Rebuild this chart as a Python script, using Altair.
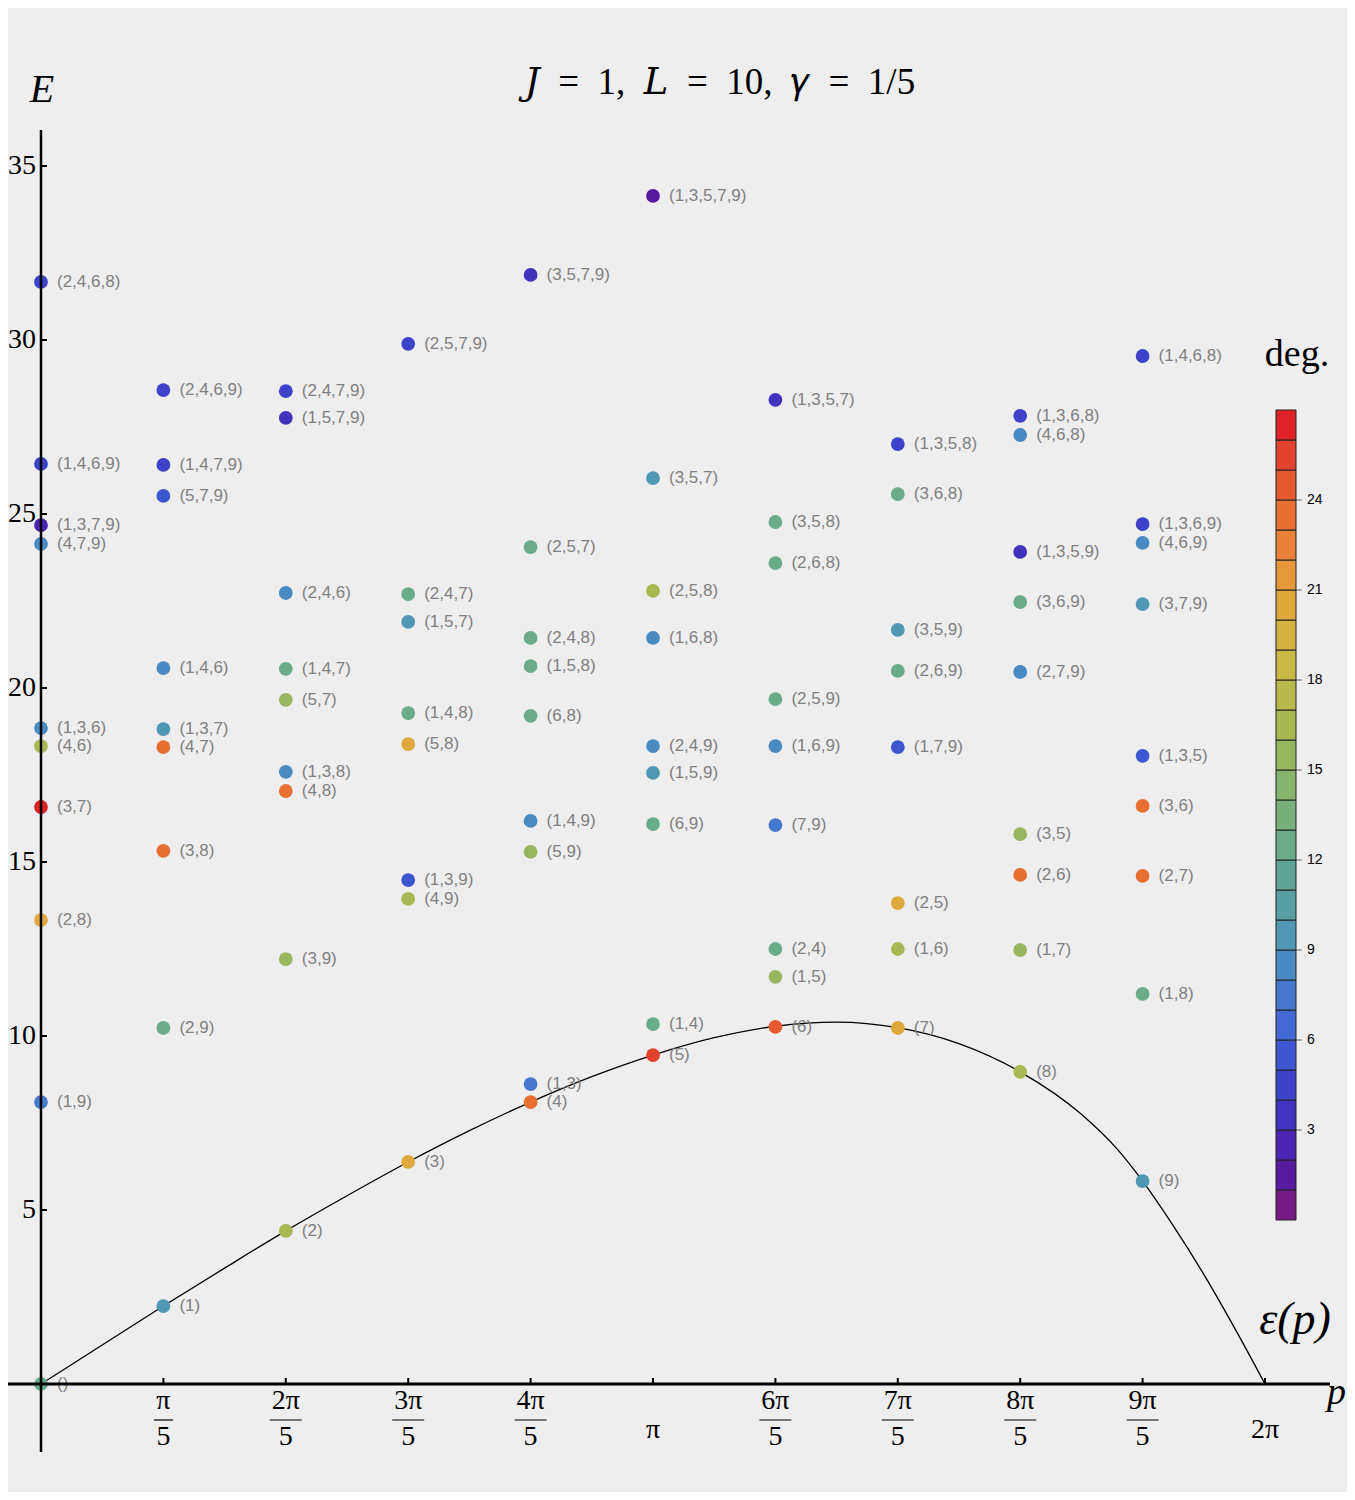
import altair as alt
import pandas as pd

# ---------------- data ----------------
# momentum index k  (p = k*pi/5), one list per momentum column
STATES = [
    ["()", "(1,9)", "(2,8)", "(3,7)", "(4,6)", "(1,3,6)", "(4,7,9)", "(1,3,7,9)", "(1,4,6,9)", "(2,4,6,8)"],
    ["(1)", "(2,9)", "(3,8)", "(4,7)", "(1,3,7)", "(1,4,6)", "(5,7,9)", "(1,4,7,9)", "(2,4,6,9)"],
    ["(2)", "(3,9)", "(4,8)", "(1,3,8)", "(5,7)", "(1,4,7)", "(2,4,6)", "(1,5,7,9)", "(2,4,7,9)"],
    ["(3)", "(4,9)", "(1,3,9)", "(5,8)", "(1,4,8)", "(1,5,7)", "(2,4,7)", "(2,5,7,9)"],
    ["(4)", "(1,3)", "(5,9)", "(1,4,9)", "(6,8)", "(1,5,8)", "(2,4,8)", "(2,5,7)", "(3,5,7,9)"],
    ["(5)", "(1,4)", "(6,9)", "(1,5,9)", "(2,4,9)", "(1,6,8)", "(2,5,8)", "(3,5,7)", "(1,3,5,7,9)"],
    ["(6)", "(1,5)", "(2,4)", "(7,9)", "(1,6,9)", "(2,5,9)", "(2,6,8)", "(3,5,8)", "(1,3,5,7)"],
    ["(7)", "(1,6)", "(2,5)", "(1,7,9)", "(2,6,9)", "(3,5,9)", "(3,6,8)", "(1,3,5,8)"],
    ["(8)", "(1,7)", "(2,6)", "(3,5)", "(2,7,9)", "(3,6,9)", "(1,3,5,9)", "(4,6,8)", "(1,3,6,8)"],
    ["(9)", "(1,8)", "(2,7)", "(3,6)", "(1,3,5)", "(3,7,9)", "(4,6,9)", "(1,3,6,9)", "(1,4,6,8)"],
]
ENERGIES = [
    [0.0, 8.10, 13.33, 16.58, 18.33, 18.85, 24.14, 24.68, 26.44, 31.67],
    [2.24, 10.23, 15.32, 18.30, 18.82, 20.57, 25.52, 26.41, 28.56],
    [4.40, 12.21, 17.04, 17.59, 19.66, 20.55, 22.73, 27.76, 28.53],
    [6.38, 13.94, 14.48, 18.39, 19.28, 21.90, 22.70, 29.89],
    [8.10, 8.62, 15.29, 16.18, 19.20, 20.63, 21.44, 24.05, 31.87],
    [9.45, 10.34, 16.09, 17.56, 18.33, 21.44, 22.79, 26.03, 34.14],
    [10.26, 11.70, 12.50, 16.06, 18.33, 19.68, 23.59, 24.77, 28.28],
    [10.23, 12.50, 13.82, 18.30, 20.49, 21.67, 25.57, 27.01],
    [8.97, 12.47, 14.63, 15.80, 20.46, 22.47, 23.91, 27.27, 27.82],
    [5.83, 11.21, 14.60, 16.61, 18.05, 22.41, 24.17, 24.71, 29.54],
]
DEGS = [
    [12, 7, 20, 26, 16, 8, 8, 2, 4, 4],
    [9, 12, 23, 23, 9, 8, 5, 4, 4],
    [16, 15, 23, 8, 15, 12, 8, 3, 4],
    [20, 16, 5, 20, 12, 9, 12, 4],
    [23, 7, 15, 8, 12, 12, 12, 12, 3],
    [25, 12, 12, 9, 8, 8, 16, 9, 1],
    [24, 15, 12, 7, 8, 12, 12, 12, 3],
    [20, 16, 20, 5, 12, 9, 12, 4],
    [16, 15, 23, 15, 8, 12, 3, 8, 4],
    [9, 12, 23, 23, 5, 9, 8, 4, 4],
]

# dispersion curve epsilon(p)
CURVE_K = [0, 0.5, 1, 1.5, 2, 2.5, 3, 3.5, 4, 4.5, 5, 5.5, 6, 6.5, 7, 7.5, 8, 8.5, 8.8, 9, 9.25, 9.5, 9.75, 10]
CURVE_E = [0, 1.12, 2.24, 3.33, 4.40, 5.41, 6.38, 7.28, 8.10, 8.83, 9.45, 9.95, 10.28, 10.40, 10.24, 9.78,
           8.97, 7.75, 6.72, 5.83, 4.55, 3.15, 1.62, 0]

X_TICKS = [1, 2, 3, 4, 5, 6, 7, 8, 9, 10]
X_NUM = ["π", "2π", "3π", "4π", "π", "6π", "7π", "8π", "9π", "2π"]
X_DEN = ["5", "5", "5", "5", "", "5", "5", "5", "5", ""]
Y_TICKS = [5, 10, 15, 20, 25, 30, 35]
LEGEND_TICKS = [3, 6, 9, 12, 15, 18, 21, 24]
DEG_DOMAIN = [0, 27]
BAND_COLORS = [
    "#761a86", "#551a9e", "#4a25af", "#4133be", "#3d42c8", "#3e56cf", "#4268d2", "#4679cd", "#4a8ac2",
    "#4f97b3", "#569fa3", "#5fa596", "#6aab8a", "#78b07c", "#87b46c", "#97b65e", "#a8b954", "#b8b94c",
    "#c8b846", "#d4b241", "#dfa83d", "#e6993a", "#e8823a", "#e86f32", "#e55a30", "#e2432f", "#dd2226",
]

# ---------------- layout ----------------
W, H = 1339, 1484
PX_X, PX_Y = 122.4, 34.8          # pixels per unit
OX, OY = 33, 1376                  # origin in canvas pixels
X_MIN = -OX / PX_X
X_MAX = X_MIN + W / PX_X
Y_MAX = OY / PX_Y
Y_MIN = Y_MAX - H / PX_Y

LEG_X, LEG_Y, LEG_LEN, LEG_W = 1268, 402, 810, 20

SERIF = "Liberation Serif"
SANS = "Liberation Sans"

xs = alt.Scale(domain=[X_MIN, X_MAX], nice=False, zero=False)
ys = alt.Scale(domain=[Y_MIN, Y_MAX], nice=False, zero=False)

rows = []
for k, (sts, ens, dgs) in enumerate(zip(STATES, ENERGIES, DEGS)):
    for s, e, d in zip(sts, ens, dgs):
        rows.append({"k": k, "E": e, "state": s, "deg": d})
pts = pd.DataFrame(rows)
curve = pd.DataFrame({"k": CURVE_K, "E": CURVE_E})


def X(f="x"):
    return alt.X(f"{f}:Q", scale=xs, axis=None)


def Y(f="y"):
    return alt.Y(f"{f}:Q", scale=ys, axis=None)


line = alt.Chart(curve).mark_line(color="black", strokeWidth=1.3, interpolate="monotone").encode(
    x=X("k"), y=Y("E"))

label_expr = "datum.value % 3 == 0 && datum.value >= 3 && datum.value <= 24 ? datum.label : ''"
points = alt.Chart(pts).mark_circle(size=190, opacity=1).encode(
    x=X("k"), y=Y("E"),
    color=alt.Color("deg:Q",
                    scale=alt.Scale(type="quantize", domain=DEG_DOMAIN, range=BAND_COLORS, nice=False),
                    legend=alt.Legend(type="gradient", orient="none", legendX=LEG_X, legendY=LEG_Y,
                                      direction="vertical", gradientLength=LEG_LEN, gradientThickness=LEG_W,
                                      title=None, labelExpr=label_expr, labelOverlap=False,
                                      labelFont=SANS, labelFontSize=14,
                                      labelColor="black", labelOffset=11, gradientStrokeColor="#222222",
                                      gradientStrokeWidth=1, padding=0)))

labels = alt.Chart(pts).mark_text(align="left", baseline="middle", dx=16, font=SANS, fontSize=17,
                                  color="#808080").encode(x=X("k"), y=Y("E"), text="state:N")

# small tick marks beside the colour bar (legend value v -> canvas pixel -> data units)
lt = pd.DataFrame({"v": LEGEND_TICKS})
lt["y"] = (OY - (LEG_Y + LEG_LEN * (DEG_DOMAIN[1] - lt["v"]) / DEG_DOMAIN[1])) / PX_Y
lt["x"] = (LEG_X + LEG_W - OX) / PX_X
lt["x2"] = (LEG_X + LEG_W + 6 - OX) / PX_X
leg_ticks = alt.Chart(lt).mark_rule(color="#666666", strokeWidth=1).encode(x=X("x"), x2="x2:Q", y=Y("y"))

# axes drawn by hand (Mathematica-style, crossing at the origin)
xaxis = alt.Chart(pd.DataFrame({"x": [-36 / PX_X], "x2": [1289 / PX_X], "y": [0]})).mark_rule(
    color="black", strokeWidth=3).encode(x=X("x"), x2="x2:Q", y=Y("y"))
yaxis = alt.Chart(pd.DataFrame({"x": [0], "y": [-68 / PX_Y], "y2": [1254 / PX_Y]})).mark_rule(
    color="black", strokeWidth=2.5).encode(x=X("x"), y=Y("y"), y2="y2:Q")

xt = pd.DataFrame({"x": X_TICKS, "y": 0.0, "y2": 6 / PX_Y})
xticks = alt.Chart(xt).mark_rule(color="black", strokeWidth=2).encode(x=X("x"), y=Y("y"), y2="y2:Q")
yt = pd.DataFrame({"y": Y_TICKS, "x": 0.0, "x2": 6 / PX_X, "lab": [str(v) for v in Y_TICKS]})
yticks = alt.Chart(yt).mark_rule(color="black", strokeWidth=2).encode(x=X("x"), x2="x2:Q", y=Y("y"))
ylabels = alt.Chart(yt).mark_text(align="right", baseline="middle", dx=-5, font=SERIF, fontSize=28,
                                  color="black").encode(x=X("x"), y=Y("y"), text="lab:N")

frac = pd.DataFrame({"x": X_TICKS, "num": X_NUM, "den": X_DEN})
frac["isfrac"] = frac["den"] != ""
frac["y"] = 0.0
frac["hw"] = frac["num"].str.len().map({1: 9.5, 2: 16.0}) / PX_X
frac["xa"] = frac["x"] - frac["hw"]
frac["xb"] = frac["x"] + frac["hw"]
frac["ybar"] = -36 / PX_Y
ff = frac[frac["isfrac"]]
fs = frac[~frac["isfrac"]]
num_t = alt.Chart(ff).mark_text(baseline="middle", dy=17, font=SERIF, fontSize=28, color="black").encode(
    x=X("x"), y=Y("y"), text="num:N")
den_t = alt.Chart(ff).mark_text(baseline="middle", dy=53, font=SERIF, fontSize=28, color="black").encode(
    x=X("x"), y=Y("y"), text="den:N")
bar_t = alt.Chart(ff).mark_rule(color="black", strokeWidth=1.2).encode(x=X("xa"), x2="xb:Q", y=Y("ybar"))
single_t = alt.Chart(fs).mark_text(baseline="middle", dy=46, font=SERIF, fontSize=28, color="black").encode(
    x=X("x"), y=Y("y"), text="num:N")


def note(txt, xp, yp, size, italic, align="center", baseline="middle", font=SERIF):
    d = pd.DataFrame({"x": [xp], "y": [yp], "t": [txt]})
    return alt.Chart(d).mark_text(align=align, baseline=baseline, font=font, fontSize=size,
                                  fontStyle="italic" if italic else "normal", color="black").encode(
        x=X("x"), y=Y("y"), text="t:N")


EN = "\u2002"
TITLE = f"\U0001D43D{EN}={EN}1,{EN}\U0001D43F{EN}={EN}10,{EN}\U0001D6FE{EN}={EN}1/5"
title = note(TITLE, 679 / PX_X, (OY - 75) / PX_Y, 37, False, font="Liberation Serif, DejaVu Serif")
e_lab = note("E", 1 / PX_X, (OY - 82) / PX_Y, 40, True)
deg_lab = note("deg.", 1256 / PX_X, (OY - 347) / PX_Y, 38, False)
eps_lab = note("ε(p)", 1254 / PX_X, (OY - 1312) / PX_Y, 46, True)
p_lab = note("p", 1305 / PX_X, (OY - 1396) / PX_Y, 38, True, align="right", baseline="alphabetic")

chart = alt.layer(
    line, points, labels, leg_ticks, xaxis, yaxis, xticks, yticks, ylabels, num_t, den_t, bar_t, single_t,
    title, e_lab, deg_lab, eps_lab, p_lab,
).properties(
    width=W, height=H, background="#eeeeee", padding=0,
    autosize=alt.AutoSizeParams(type="none"),
).configure_view(stroke=None)

chart.save("out.html", embed_options={"renderer": "svg", "actions": False})
